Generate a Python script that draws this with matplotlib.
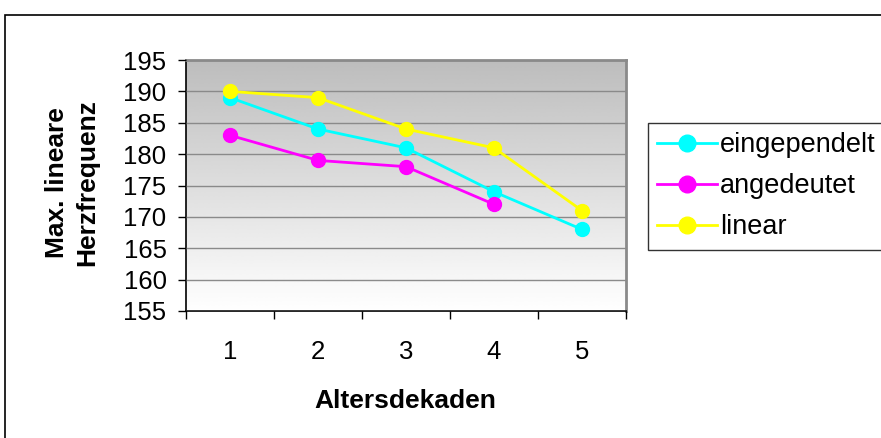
import numpy as np
import matplotlib.pyplot as plt
from matplotlib.patches import Rectangle

plt.rcParams['font.family'] = ['Liberation Sans', 'DejaVu Sans']

dekaden = [1, 2, 3, 4, 5]
eingependelt = [189, 184, 181, 174, 168]
angedeutet = [183, 179, 178, 172]
linear = [190, 189, 184, 181, 171]

fig = plt.figure(figsize=(8.81, 4.38), dpi=100)
fig.patch.set_facecolor('white')

# Rahmen um das ganze Diagramm
fig.patches.append(Rectangle((5 / 881, -0.1), 1.2, 0.1 + 1 - 15 / 438,
                             transform=fig.transFigure, fill=False,
                             edgecolor='black', linewidth=1.2))

ax = fig.add_axes([186 / 881, 1 - 311 / 438, 440 / 881, 251 / 438])

# Verlauf grau (oben) -> weiss (unten) im Hintergrund
grad = np.linspace(0.74, 1.0, 256).reshape(-1, 1)
ax.imshow(grad, cmap='gray', vmin=0, vmax=1, aspect='auto', origin='upper',
          extent=[0.5, 5.5, 155, 195], zorder=0, interpolation='bicubic')

ax.set_xlim(0.5, 5.5)
ax.set_ylim(155, 195)
ax.set_yticks(np.arange(155, 196, 5))
ax.yaxis.grid(True, color='#8a8a8a', linewidth=1.0, zorder=1)
ax.set_axisbelow(False)

ax.plot(dekaden, eingependelt, color='#00ffff', marker='o', markersize=10,
        linewidth=2, label='eingependelt', zorder=3)
ax.plot(dekaden[:len(angedeutet)], angedeutet, color='#ff00ff', marker='o',
        markersize=10, linewidth=2, label='angedeutet', zorder=3)
ax.plot(dekaden, linear, color='#ffff00', marker='o', markersize=10,
        linewidth=2, label='linear', zorder=3)

ax.set_xticks(dekaden)
ax.set_xticklabels([str(d) for d in dekaden])
ax.set_xticks(np.arange(0.5, 5.6, 1), minor=True)
ax.tick_params(axis='x', which='major', length=0, pad=21, labelsize=18.5)
ax.tick_params(axis='x', which='minor', length=6, direction='out', width=1)
ax.tick_params(axis='y', length=6, direction='out', width=1, pad=8,
               labelsize=18.5)

for s in ['left', 'bottom']:
    ax.spines[s].set_color('black')
    ax.spines[s].set_linewidth(1.2)
for s in ['top', 'right']:
    ax.spines[s].set_color('#8a8a8a')
    ax.spines[s].set_linewidth(2)

fig.text(405 / 881, 1 - 401 / 438, 'Altersdekaden', ha='center', va='center',
         fontsize=19, fontweight='bold')
fig.text(72 / 881, 1 - 183 / 438, 'Max. lineare\nHerzfrequenz', ha='center',
         va='center', rotation=90, fontsize=19, fontweight='bold',
         linespacing=1.3)

leg = ax.legend(loc='upper left', bbox_to_anchor=(648 / 881, 1 - 123 / 438),
                bbox_transform=fig.transFigure, fontsize=19.5, frameon=True,
                fancybox=False, edgecolor='black', handlelength=2.2,
                handletextpad=0.1, borderpad=0.35, labelspacing=0.55,
                borderaxespad=0, markerscale=1.2)
leg.get_frame().set_linewidth(1.0)

fig.savefig('out.png', dpi=100)
